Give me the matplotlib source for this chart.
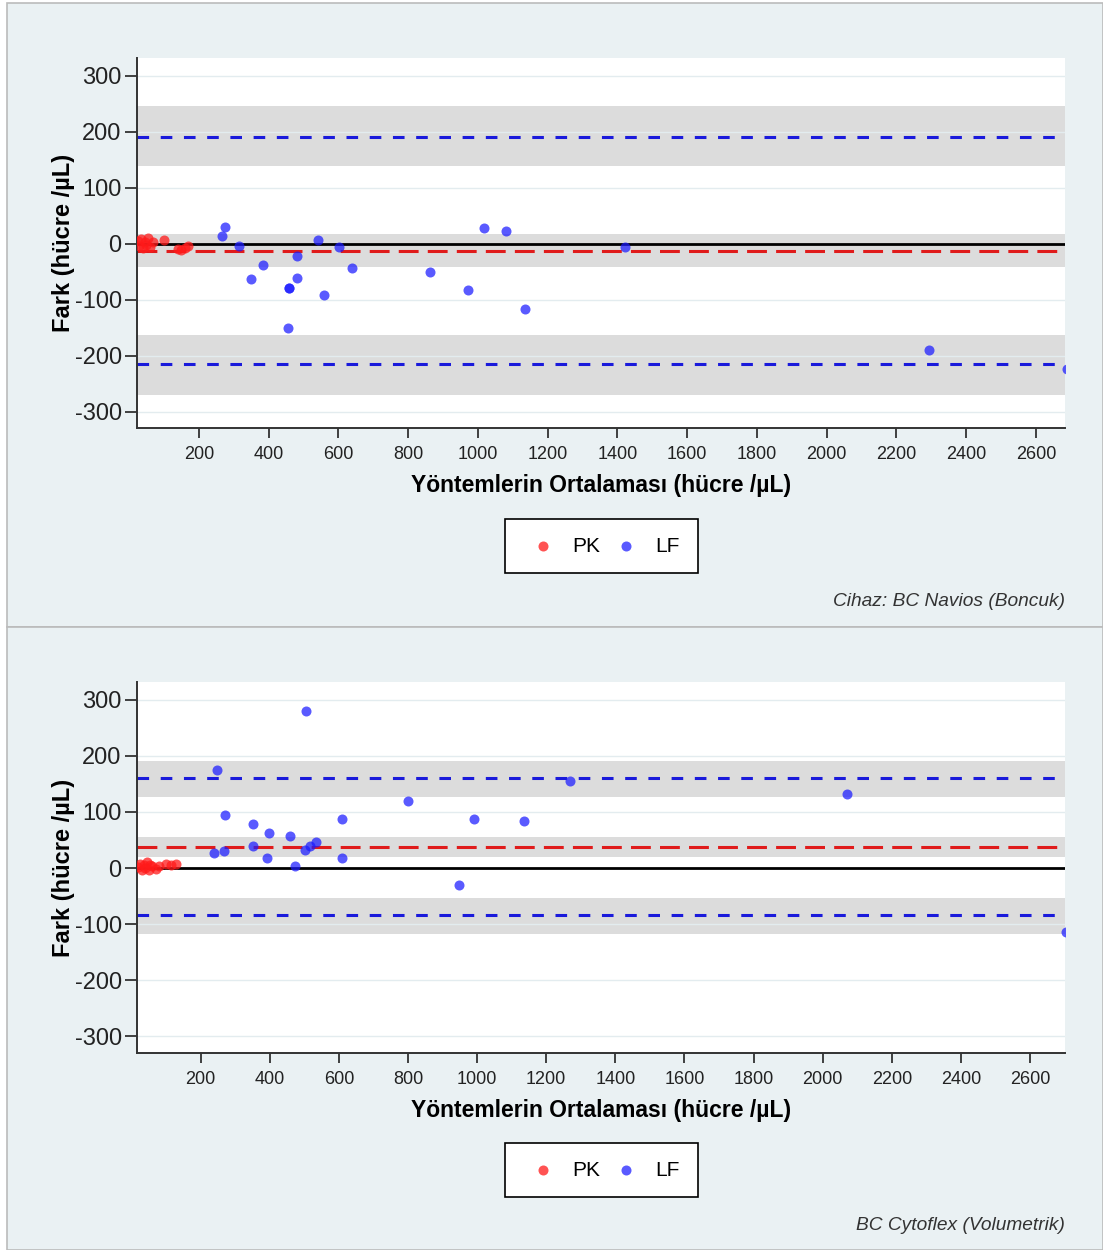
import numpy as np
import matplotlib
matplotlib.use("Agg")
import matplotlib.pyplot as plt
from matplotlib.patches import Rectangle

plt.rcParams['font.family'] = ['Liberation Sans', 'DejaVu Sans']
plt.rcParams['axes.unicode_minus'] = False

# --- Panel 1: BC Navios (Boncuk) ---
pk1_x = [25, 30, 35, 40, 45, 50, 55, 60, 70, 100, 140, 150, 160, 170]
pk1_y = [5, -5, 8, -8, 3, -3, 10, -6, 2, 7, -10, -12, -8, -5]
lf1_x = [275, 266, 316, 383, 350, 481, 481, 460, 458, 455, 543, 602, 560, 640,
         863, 971, 1018, 1081, 1135, 1422, 2293, 2690]
lf1_y = [30, 14, -4, -38, -64, -23, -62, -80, -80, -151, 7, -7, -91, -44,
         -51, -83, 27, 22, -117, -6, -190, -224]
mean1, mean1_ci = -13, (-41, 17)
upper1, upper1_ci = 191, (138, 245)
lower1, lower1_ci = -216, (-270, -163)

# --- Panel 2: BC Cytoflex (Volumetrik) ---
pk2_x = [20, 25, 30, 35, 40, 45, 50, 55, 60, 70, 80, 100, 115, 130]
pk2_y = [2, 8, -3, 5, 0, 10, -4, 6, 3, -2, 4, 8, 6, 7]
lf2_x = [504, 248, 270, 351, 398, 460, 610, 800, 990, 1135, 239, 267, 353, 392,
         472, 502, 516, 533, 609, 947, 1269, 2070, 2705]
lf2_y = [280, 174, 94, 78, 63, 58, 88, 120, 88, 83, 26, 31, 39, 18,
         3, 33, 40, 47, 18, -31, 155, 132, -114]
mean2, mean2_ci = 38, (20, 56)
upper2, upper2_ci = 160, (126, 190)
lower2, lower2_ci = -84, (-118, -54)

x_ticks = [200, 400, 600, 800, 1000, 1200, 1400, 1600, 1800, 2000, 2200, 2400, 2600]
y_ticks = [-300, -200, -100, 0, 100, 200, 300]
x_label = "Yöntemlerin Ortalaması (hücre /µL)"
y_label = "Fark (hücre /µL)"

W, H = 1103, 1250
BG = '#EAF1F3'
RED = (1.0, 0.1, 0.1, 0.75)
BLUE = (0.1, 0.1, 1.0, 0.72)


def px_axes(fig, left, top, right, bottom):
    return fig.add_axes([left / W, 1 - bottom / H, (right - left) / W, (bottom - top) / H])


def draw_panel(fig, ax, pkx, pky, lfx, lfy, mean, mean_ci, up, up_ci, lo, lo_ci, xlim, note, leg_y, note_y):
    ax.set_facecolor('white')
    for lo_b, hi_b in (up_ci, mean_ci, lo_ci):
        ax.axhspan(lo_b, hi_b, color='#DCDCDC', lw=0, zorder=1)
    for t in y_ticks:
        ax.axhline(t, color='#E3ECEF', lw=1, zorder=1.5)
    ax.axhline(0, color='black', lw=2, zorder=2)
    ax.axhline(mean, color='#E01B1B', lw=2.2, ls=(0, (6.5, 3)), zorder=2.5)
    ax.axhline(up, color='#1A1ADB', lw=2.2, ls=(0, (3.8, 3.8)), zorder=2.5)
    ax.axhline(lo, color='#1A1ADB', lw=2.2, ls=(0, (3.8, 3.8)), zorder=2.5)
    pk = ax.scatter(pkx, pky, s=52, color=RED, lw=0, zorder=3, label='PK')
    lf = ax.scatter(lfx, lfy, s=52, color=BLUE, lw=0, zorder=3, label='LF')
    ax.set_xlim(*xlim)
    ax.set_ylim(-330, 332)
    ax.set_xticks(x_ticks)
    ax.set_yticks(y_ticks)
    ax.tick_params(axis='x', labelsize=13, length=7, width=1.2, pad=6, colors='#222222')
    ax.tick_params(axis='y', labelsize=17, length=9, width=1.2, pad=2, colors='#222222')
    for s in ('top', 'right'):
        ax.spines[s].set_visible(False)
    for s in ('left', 'bottom'):
        ax.spines[s].set_color('#333333')
        ax.spines[s].set_linewidth(1.4)
    ax.set_xlabel(x_label, fontsize=16.5, fontweight='bold', labelpad=8)
    ax.set_ylabel(y_label, fontsize=17, fontweight='bold', labelpad=0)
    leg = fig.legend(handles=[pk, lf], labels=['PK', 'LF'], loc='center',
                     bbox_to_anchor=(601 / W, 1 - leg_y / H), ncol=2, fontsize=15,
                     frameon=True, fancybox=False, edgecolor='black', borderpad=0.85,
                     handlelength=2.0, handletextpad=0.4, columnspacing=0.25,
                     borderaxespad=0)
    leg.get_frame().set_linewidth(1.2)
    leg.get_frame().set_facecolor('white')
    leg.get_frame().set_alpha(1.0)
    fig.text(1065 / W, 1 - note_y / H, note, ha='right', va='center', fontsize=13.8,
             style='italic', color='#333333')


def main():
    fig = plt.figure(figsize=(W / 100, H / 100), dpi=100, facecolor='white')
    fig.patches.append(Rectangle((7 / W, 1 - 627 / H), 1 - 7 / W, 624 / H, transform=fig.transFigure,
                                 facecolor=BG, edgecolor='#BBBBBB', lw=1.2, zorder=-10))
    fig.patches.append(Rectangle((7 / W, 0), 1 - 7 / W, 623 / H, transform=fig.transFigure,
                                 facecolor=BG, edgecolor='#BBBBBB', lw=1.2, zorder=-10))

    ax1 = px_axes(fig, 137, 57.7, 1065, 428.3)
    draw_panel(fig, ax1, pk1_x, pk1_y, lf1_x, lf1_y, mean1, mean1_ci, upper1, upper1_ci,
               lower1, lower1_ci, (23, 2683), "Cihaz: BC Navios (Boncuk)", 546, 602)

    ax2 = px_axes(fig, 137, 681.7, 1065, 1053.3)
    draw_panel(fig, ax2, pk2_x, pk2_y, lf2_x, lf2_y, mean2, mean2_ci, upper2, upper2_ci,
               lower2, lower2_ci, (16, 2701), "BC Cytoflex (Volumetrik)", 1170, 1225)

    fig.savefig("out.png", dpi=100, facecolor=fig.get_facecolor())


if __name__ == "__main__":
    main()
